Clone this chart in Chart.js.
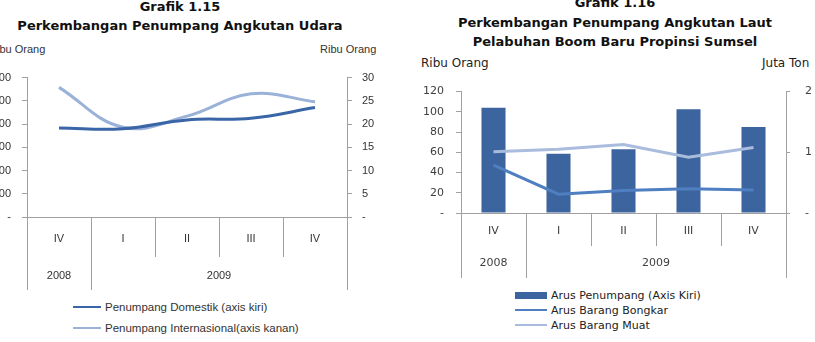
<!DOCTYPE html>
<html>
<head>
<meta charset="utf-8">
<script src="https://cdn.jsdelivr.net/npm/chart.js@4.4.1/dist/chart.umd.min.js"></script>
<style>
  body { margin: 0; width: 815px; height: 342px; background: #fff; position: relative; overflow: hidden; }
  .abs { position: absolute; white-space: nowrap; }
  .title { font-family: "DejaVu Sans", sans-serif; font-weight: bold; font-size: 13px; line-height: 19px; text-align: center; color: #111; }
  .unitL { font-family: "Liberation Sans", sans-serif; font-size: 11px; line-height: 14px; color: #333; }
  .unitR { font-family: "DejaVu Sans", sans-serif; font-size: 12px; line-height: 14px; color: #222; }
  .legL { font-family: "Liberation Sans", sans-serif; font-size: 11.5px; color: #333; }
  .legR { font-family: "DejaVu Sans", sans-serif; font-size: 11px; color: #222; }
  .row { position: absolute; display: flex; align-items: center; height: 14px; }
  .sw { display: inline-block; margin-right: 4px; }
</style>
</head>
<body>
<div class="abs title" style="left:0; top:-3px; width:360px;">Grafik 1.15<br>Perkembangan Penumpang Angkutan Udara</div>
<div class="abs title" style="left:415px; top:-7px; width:400px; line-height:19.5px;">Grafik 1.16<br>Perkembangan Penumpang Angkutan Laut<br>Pelabuhan Boom Baru Propinsi Sumsel</div>

<div class="abs unitL" style="left:-11px; top:42px;">Ribu Orang</div>
<div class="abs unitL" style="left:320px; top:42px;">Ribu Orang</div>
<div class="abs unitR" style="left:421px; top:56px;">Ribu Orang</div>
<div class="abs unitR" style="left:762px; top:56px;">Juta Ton</div>

<div class="abs" style="left:-33px; top:60px; width:420px; height:231px;"><canvas id="udara"></canvas></div>
<div class="abs" style="left:401px; top:70px; width:415px; height:209px;"><canvas id="laut"></canvas></div>

<div id="legendUdara"></div>
<div id="legendLaut"></div>

<script>
// shared category axis
const quarters = ['IV', 'I', 'II', 'III', 'IV'];
const years = ['2008', '2009'];
const quartersPerYear = [1, 4];

// Grafik 1.15 - angkutan udara (ribu orang)
const udaraLabels = ['Penumpang Domestik (axis kiri)', 'Penumpang Internasional(axis kanan)'];
const domestik = [383, 380, 418, 425, 471];
const internasional = [27.9, 19.3, 21.7, 26.5, 24.8];

// Grafik 1.16 - angkutan laut
const lautLabels = ['Arus Penumpang (Axis Kiri)', 'Arus Barang Bongkar', 'Arus Barang Muat'];
const penumpangLaut = [104, 58.6, 63, 102.6, 85];   // ribu orang
const bongkar = [0.79, 0.31, 0.37, 0.40, 0.38];     // juta ton
const muat = [1.01, 1.05, 1.13, 0.92, 1.08];        // juta ton

const axisColor = '#a0a0a0';
const dark = '#3a66a7';
const light = '#9ab1d8';

// year row: centers and borders in category units
const yearCenters = [], yearBounds = [-0.5];
let start = 0;
quartersPerYear.forEach(n => {
    yearCenters.push(start + (n - 1) / 2);
    start += n;
    yearBounds.push(start - 0.5);
});

const dash = v => v === 0 ? '-' : v;

// vertical lines of the category table under the x axis
const tablePlugin = {
    id: 'tabel',
    afterDraw(chart, args, opts) {
        const { x, x2 } = chart.scales;
        const ctx = chart.ctx;
        const rowEnd = x.bottom - (opts.lift || 0);
        ctx.save();
        ctx.strokeStyle = axisColor;
        ctx.lineWidth = 1;
        ctx.beginPath();
        for (let i = 0; i <= quarters.length; i++) {
            const px = Math.round(x2.getPixelForValue(i - 0.5)) + 0.5;
            ctx.moveTo(px, x.top);
            ctx.lineTo(px, rowEnd);
        }
        yearBounds.forEach(b => {
            const px = Math.round(x2.getPixelForValue(b)) + 0.5;
            ctx.moveTo(px, rowEnd);
            ctx.lineTo(px, x2.bottom);
        });
        ctx.stroke();
        ctx.restore();
    }
};

function xAxes(font, color, pad1, pad2) {
    return {
        x: {
            type: 'category', offset: true,
            grid: { display: false, drawTicks: false },
            border: { display: true, color: axisColor },
            ticks: { font, color, padding: pad1, maxRotation: 0, autoSkip: false }
        },
        x2: {
            type: 'linear', position: 'bottom', offset: false,
            min: -0.5, max: quarters.length - 0.5,
            grid: { display: false, drawTicks: false, offset: false },
            border: { display: false },
            afterBuildTicks: s => { s.ticks = yearCenters.map(v => ({ value: v })); },
            ticks: { font, color, padding: pad2, maxRotation: 0, autoSkip: false,
                     callback: (v, i) => years[i] }
        }
    };
}

const fontL = { family: 'Liberation Sans', size: 11 };
const fontR = { family: 'DejaVu Sans', size: 11 };

new Chart(document.getElementById('udara'), {
    type: 'line',
    data: {
        labels: quarters,
        datasets: [
            { label: udaraLabels[0], data: domestik, yAxisID: 'y', borderColor: dark, backgroundColor: dark,
              borderWidth: 3, pointRadius: 0, tension: 0.4 },
            { label: udaraLabels[1], data: internasional, yAxisID: 'y1', borderColor: light, backgroundColor: light,
              borderWidth: 3, pointRadius: 0, tension: 0.4 }
        ]
    },
    options: {
        responsive: true, maintainAspectRatio: false, animation: false,
        layout: { padding: { top: 13, bottom: 1, left: 0, right: 0 } },
        plugins: { legend: { display: false }, tooltip: { enabled: false }, tabel: { lift: 4 } },
        scales: {
            ...xAxes(fontL, '#333', 15.4, 7.9),
            y: {
                position: 'left', min: 0, max: 600,
                afterFit: s => { s.width = 60; },
                grid: { drawOnChartArea: false, tickLength: 5, color: axisColor },
                border: { color: axisColor },
                ticks: { stepSize: 100, font: fontL, color: '#333', padding: 11, callback: dash }
            },
            y1: {
                position: 'right', min: 0, max: 30,
                afterFit: s => { s.width = 40; },
                grid: { drawOnChartArea: false, tickLength: 5, color: axisColor },
                border: { color: axisColor },
                ticks: { stepSize: 5, font: fontL, color: '#333', padding: 10, callback: dash }
            }
        }
    },
    plugins: [tablePlugin]
});

const lautColors = ['#3c659f', '#4f7fc0', '#a9bcdd'];

new Chart(document.getElementById('laut'), {
    type: 'bar',
    data: {
        labels: quarters,
        datasets: [
            { type: 'bar', label: lautLabels[0], data: penumpangLaut, yAxisID: 'y', order: 1,
              backgroundColor: lautColors[0], barPercentage: 0.37, categoryPercentage: 1 },
            { type: 'line', label: lautLabels[1], data: bongkar, yAxisID: 'y1', order: 0,
              borderColor: lautColors[1], backgroundColor: lautColors[1], borderWidth: 3, pointRadius: 0, tension: 0 },
            { type: 'line', label: lautLabels[2], data: muat, yAxisID: 'y1', order: 0,
              borderColor: lautColors[2], backgroundColor: lautColors[2], borderWidth: 3, pointRadius: 0, tension: 0 }
        ]
    },
    options: {
        responsive: true, maintainAspectRatio: false, animation: false,
        layout: { padding: { top: 12, bottom: 1, left: 0, right: 0 } },
        plugins: { legend: { display: false }, tooltip: { enabled: false }, tabel: { lift: 3 } },
        scales: {
            ...xAxes(fontR, '#404040', 11.4, 7.9),
            y: {
                position: 'left', min: 0, max: 120,
                afterFit: s => { s.width = 60; },
                grid: { drawOnChartArea: false, tickLength: 5, color: axisColor },
                border: { color: axisColor },
                ticks: { stepSize: 20, font: fontR, color: '#404040', padding: 12, callback: dash }
            },
            y1: {
                position: 'right', min: 0, max: 2,
                afterFit: s => { s.width = 30; },
                grid: { drawOnChartArea: false, tickLength: 4, color: axisColor },
                border: { color: axisColor },
                ticks: { stepSize: 1, font: fontR, color: '#404040', padding: 15, callback: dash }
            }
        }
    }, 
    plugins: [tablePlugin]
});

// legends (vertical lists under each chart)
function legend(el, items, left, top, gap, swW, cls) {
    items.forEach((it, i) => {
        const row = document.createElement('div');
        row.className = 'row ' + cls;
        row.style.left = left + 'px';
        row.style.top = (top + i * gap - 7) + 'px';
        const sw = document.createElement('span');
        sw.className = 'sw';
        sw.style.width = swW + 'px';
        sw.style.height = it.bar ? '7px' : '2px';
        sw.style.background = it.color;
        row.appendChild(sw);
        row.appendChild(document.createTextNode(it.label));
        el.appendChild(row);
    });
}

legend(document.getElementById('legendUdara'),
    [{ label: udaraLabels[0], color: dark }, { label: udaraLabels[1], color: light }],
    73, 307, 21, 28, 'legL');
legend(document.getElementById('legendLaut'),
    lautLabels.map((l, i) => ({ label: l, color: lautColors[i], bar: i === 0 })),
    515, 295, 15, 32, 'legR');
</script>
</body>
</html>
